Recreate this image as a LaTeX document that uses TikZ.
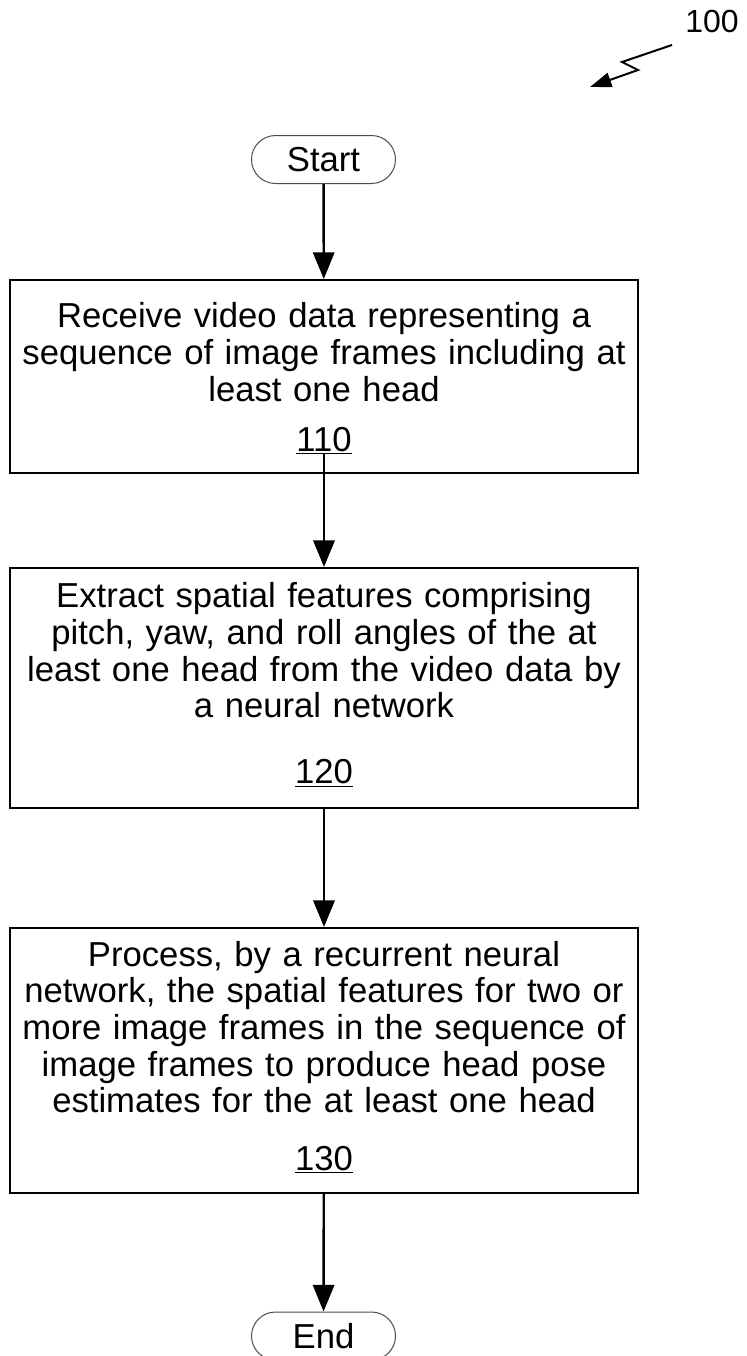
\documentclass[tikz,border=0pt]{standalone}
\usepackage{fontspec}
\setmainfont{Liberation Sans}
\usetikzlibrary{arrows.meta,calc,shapes.misc}
\begin{document}
\begin{tikzpicture}[x=0.75pt,y=-0.75pt,
  every node/.style={font=\fontsize{26}{27.5}\selectfont},
  pill/.style={rounded rectangle, draw=black!70, line width=0.75pt,
    minimum width=108pt, minimum height=36pt, inner sep=0pt},
  stepbox/.style={draw, line width=1.5pt, minimum width=471pt, anchor=north,
    align=center, inner sep=0pt, text width=465pt},
  flow/.style={line width=1.8pt, -{Triangle[width=16pt,length=20pt]}},
  refarrow/.style={line width=1.5pt, -{Triangle[width=11pt,length=16pt]}}]
\useasboundingbox (0,0) rectangle (746,1356);

% reference numeral with zigzag pointer
\node[font=\fontsize{24}{26}\selectfont] (ref) at (712,21) {100};
\coordinate (z0) at (672,45);
\coordinate (z1) at (622,62);
\coordinate (z2) at (638,70);
\coordinate (z3) at (590,87);
\draw[refarrow] (z0) -- (z1) -- (z2) -- (z3);

% terminals
\node[pill] (start) at (323.5,159.5) {Start};
\node[pill] (end) at (323.5,1336) {End};

% process steps (text height = distance from top edge to first baseline)
\node[stepbox, text height=35.8pt, text depth=108.6pt] (b1) at (324,279)
  {Receive video data representing a\\sequence of image frames including at\\least one head\\[10pt]\underline{110}};
\node[stepbox, text height=29.8pt, text depth=150.2pt] (b2) at (324,567)
  {Extract spatial features comprising\\pitch, yaw, and roll angles of the at\\least one head from the video data by\\a neural network\\[22pt]\underline{120}};
\node[stepbox, text height=28.5pt, text depth=170.25pt] (b3) at (324,927)
  {Process, by a recurrent neural\\network, the spatial features for two or\\more image frames in the sequence of\\image frames to produce head pose\\estimates for the at least one head\\[15.5pt]\underline{130}};

% connectors
\draw[flow] (start) -- (b1);
\draw[flow] ($(b1.south)+(0,-21)$) -- (b2.north);
\draw[flow] (b2) -- (b3);
\draw[flow] (b3) -- (end);
\end{tikzpicture}
\end{document}
